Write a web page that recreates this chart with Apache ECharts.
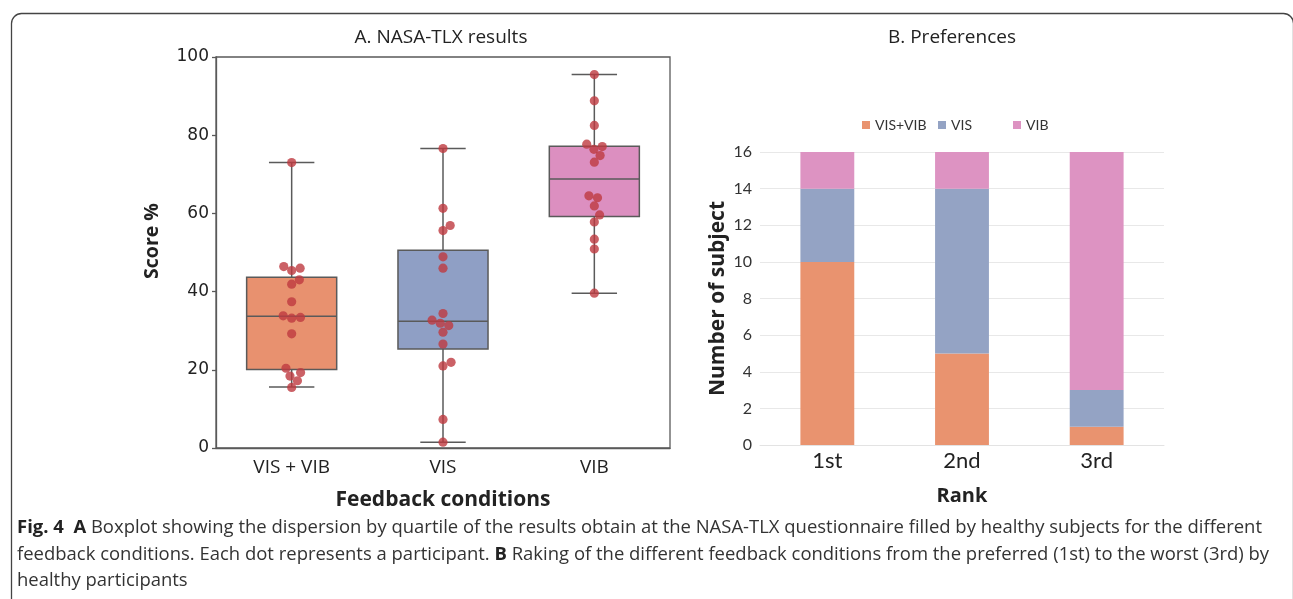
<!DOCTYPE html>
<html><head><meta charset="utf-8">
<script src="https://cdn.jsdelivr.net/npm/echarts@6/dist/echarts.min.js"></script>
<style>html,body{margin:0;padding:0;background:#fff}#c{width:1293px;height:599px}</style>
</head><body><div id="c"></div>
<script>
// ---------- data ----------
const conditions = ['VIS + VIB', 'VIS', 'VIB'];
// [lower whisker, q1, median, q3, upper whisker]
const boxVisVib = [15.6, 20.1, 33.7, 43.7, 73.0];
const boxVis    = [1.5, 25.3, 32.4, 50.6, 76.6];
const boxVib    = [39.6, 59.2, 68.8, 77.2, 95.5];
const scoresVisVib = [73.0, 46.0, 45.4, 46.4, 43.0, 41.9, 37.4, 33.4, 33.2, 33.8, 29.2, 20.4, 19.3, 18.4, 17.2, 15.5];
const scoresVis    = [76.6, 61.3, 56.9, 55.6, 48.9, 46.0, 34.4, 32.7, 31.9, 31.3, 29.6, 26.6, 21.9, 21.0, 7.3, 1.5];
const scoresVib    = [95.5, 88.8, 82.5, 77.7, 77.1, 76.4, 74.8, 73.1, 64.5, 64.0, 61.9, 59.6, 57.8, 53.4, 50.9, 39.6];
const scoreTicks = [0, 20, 40, 60, 80, 100];

const ranks = ['1st', '2nd', '3rd'];
const prefVisVib = [10, 5, 1];
const prefVis    = [4, 9, 2];
const prefVib    = [2, 2, 13];
const countTicks = [0, 2, 4, 6, 8, 10, 12, 14, 16];

const titleA = 'A. NASA-TLX results';
const titleB = 'B. Preferences';
const scoreName = 'Score %';
const captionLines = [
  [['Fig. 4', 'b'], ['  ', 'r'], ['A', 'b'], [' Boxplot showing the dispersion by quartile of the results obtain at the NASA-TLX questionnaire filled by healthy subjects for the different', 'r']],
  [['feedback conditions. Each dot represents a participant. ', 'r'], ['B', 'b'], [' Raking of the different feedback conditions from the preferred (1st) to the worst (3rd) by', 'r']],
  [['healthy participants', 'r']]
];

// ---------- styles ----------
const boxColors = ['#e8916f', '#8f9fc5', '#dc8fc0'];
const barColors = ['#e9936f', '#94a3c4', '#dd93c2'];
const edge = '#5a5a5a';

const boxStats = [boxVisVib, boxVis, boxVib];
const scoreGroups = [scoresVisVib, scoresVis, scoresVib];
const dotData = [];
scoreGroups.forEach((arr, g) => arr.forEach(v => dotData.push([g, v])));

// beeswarm layout in pixel space (computed through the axis scale)
let swarmCache = null;
function computeSwarm(api) {
  const diam = 8.8;
  const flat = [];
  scoreGroups.forEach((vals, g) => {
    const ys = vals.map(v => api.coord([g, v])[1]);
    const order = ys.map((y, i) => i).sort((a, b) => ys[b] - ys[a]);
    const placed = [];
    const offs = new Array(vals.length).fill(0);
    order.forEach(i => {
      const y = ys[i];
      const near = placed.filter(p => Math.abs(p.y - y) < diam);
      const cands = [0];
      near.forEach(p => { const d = Math.sqrt(diam * diam - (p.y - y) ** 2); cands.push(p.x - d, p.x + d); });
      const ok = cands.filter(c => near.every(p => Math.hypot(p.x - c, p.y - y) >= diam - 1e-6));
      ok.sort((a, b) => (Math.abs(a) - Math.abs(b)) || (b - a));
      const x = ok.length ? ok[0] : 0;
      offs[i] = x; placed.push({ x, y });
    });
    offs.forEach(o => flat.push(o));
  });
  return flat;
}

// caption scaling (condensed look)
const capFont = '"Open Sans", sans-serif';
const capSize = 18.5;
const mctx = document.createElement('canvas').getContext('2d');
function segWidth(t, kind) {
  mctx.font = (kind === 'b' ? 'bold ' : '') + capSize + 'px ' + capFont;
  return mctx.measureText(t).width;
}
const line1W = captionLines[0].reduce((s, p) => s + segWidth(p[0], p[1]), 0);
const capScale = 1245 / line1W;

const captionGraphics = captionLines.map((segs, k) => ({
  type: 'text', x: 17, y: 528 + k * 26.5, scaleX: capScale, scaleY: 1,
  style: {
    text: segs.map(p => '{' + p[1] + '|' + p[0] + '}').join(''),
    fontFamily: capFont, fontSize: capSize, fill: '#333',
    rich: {
      b: { fontFamily: capFont, fontSize: capSize, fontWeight: 'bold', fill: '#222', color: '#222' },
      r: { fontFamily: capFont, fontSize: capSize, fill: '#333', color: '#333' }
    },
    verticalAlign: 'middle', textVerticalAlign: 'middle'
  }
}));

const legendText = { fontSize: 14, color: '#333', fontFamily: 'Lato' };

const chart = echarts.init(document.getElementById('c'), null, { renderer: 'canvas' });
chart.setOption({
  animation: false,
  backgroundColor: '#fff',
  grid: [
    { left: 216, top: 57, width: 454, height: 391, show: true, borderColor: edge, borderWidth: 1.3, backgroundColor: 'transparent' },
    { left: 760, top: 152, width: 404, height: 293 }
  ],
  legend: [
    { data: ['VIS+VIB'], left: 857, top: 113, icon: 'rect', itemWidth: 8, itemHeight: 8, textStyle: legendText, selectedMode: false },
    { data: ['VIS'], left: 933, top: 113, icon: 'rect', itemWidth: 8, itemHeight: 8, textStyle: legendText, selectedMode: false },
    { data: ['VIB'], left: 1008, top: 113, icon: 'rect', itemWidth: 8, itemHeight: 8, textStyle: legendText, selectedMode: false }
  ],
  xAxis: [
    {
      gridIndex: 0, type: 'category', data: conditions, boundaryGap: true,
      axisLine: { lineStyle: { color: edge, width: 1.3 } },
      axisTick: { alignWithLabel: true, length: 5, lineStyle: { color: edge, width: 1.3 } },
      axisLabel: { fontSize: 19, color: '#222', margin: 10, fontFamily: '"Open Sans"' },
      name: 'Feedback conditions', nameLocation: 'middle', nameGap: 42,
      nameTextStyle: { fontSize: 21, fontWeight: 'bold', color: '#222', fontFamily: '"Open Sans"' }
    },
    {
      gridIndex: 1, type: 'category', data: ranks, boundaryGap: true,
      axisLine: { lineStyle: { color: '#e3e3e3', width: 1 } },
      axisTick: { show: false },
      axisLabel: { fontSize: 22, color: '#222', margin: 5, fontFamily: 'Lato' },
      name: 'Rank', nameLocation: 'middle', nameGap: 41,
      nameTextStyle: { fontSize: 20, fontWeight: 'bold', color: '#222', fontFamily: '"Open Sans"' }
    }
  ],
  yAxis: [
    {
      gridIndex: 0, type: 'value', min: scoreTicks[0], max: scoreTicks[scoreTicks.length - 1], interval: scoreTicks[1] - scoreTicks[0],
      axisLine: { show: true, lineStyle: { color: edge, width: 1.3 } },
      axisTick: { show: true, length: 4, lineStyle: { color: edge, width: 1.3 } },
      splitLine: { show: false },
      axisLabel: { fontSize: 17, color: '#222', margin: 7, fontFamily: '"DejaVu Sans"' }
    },
    {
      gridIndex: 1, type: 'value', min: countTicks[0], max: countTicks[countTicks.length - 1], interval: countTicks[1] - countTicks[0],
      axisLine: { show: false }, axisTick: { show: false },
      splitLine: { lineStyle: { color: '#e8e8e8', width: 1 } },
      axisLabel: { fontSize: 16, color: '#333', margin: 8, fontFamily: 'Lato' },
      name: 'Number of subject', nameLocation: 'middle', nameGap: 31, nameRotate: 90,
      nameTextStyle: { fontSize: 21, fontWeight: 'bold', color: '#222', fontFamily: '"Open Sans"' }
    }
  ],
  series: [
    {
      type: 'custom', xAxisIndex: 0, yAxisIndex: 0, z: 2,
      data: boxStats.map((s, i) => [i].concat(s)),
      encode: { x: 0, y: [1, 2, 3, 4, 5] },
      renderItem: function (params, api) {
        const i = api.value(0);
        const band = api.size([1, 0])[0];
        const bw = band * 0.595, cw = band * 0.3;
        const lo = api.coord([i, api.value(1)]);
        const q1 = api.coord([i, api.value(2)]);
        const md = api.coord([i, api.value(3)]);
        const q3 = api.coord([i, api.value(4)]);
        const hi = api.coord([i, api.value(5)]);
        const x = md[0];
        const st = { stroke: edge, lineWidth: 1.5, fill: null };
        return {
          type: 'group', children: [
            { type: 'line', shape: { x1: x, y1: hi[1], x2: x, y2: q3[1] }, style: st },
            { type: 'line', shape: { x1: x, y1: q1[1], x2: x, y2: lo[1] }, style: st },
            { type: 'line', shape: { x1: x - cw / 2, y1: hi[1], x2: x + cw / 2, y2: hi[1] }, style: st },
            { type: 'line', shape: { x1: x - cw / 2, y1: lo[1], x2: x + cw / 2, y2: lo[1] }, style: st },
            { type: 'rect', shape: { x: x - bw / 2, y: q3[1], width: bw, height: q1[1] - q3[1] }, style: { fill: boxColors[i], stroke: edge, lineWidth: 1.5 } },
            { type: 'line', shape: { x1: x - bw / 2, y1: md[1], x2: x + bw / 2, y2: md[1] }, style: st }
          ]
        };
      }
    },
    {
      type: 'custom', xAxisIndex: 0, yAxisIndex: 0, z: 5,
      data: dotData, encode: { x: 0, y: 1 },
      renderItem: function (params, api) {
        if (!swarmCache) swarmCache = computeSwarm(api);
        const p = api.coord([api.value(0), api.value(1)]);
        const dx = swarmCache[params.dataIndex] || 0;
        return { type: 'circle', shape: { cx: p[0] + dx, cy: p[1], r: 4.6 }, style: { fill: 'rgba(190,58,64,0.8)' } };
      }
    },
    { name: 'VIS+VIB', type: 'bar', xAxisIndex: 1, yAxisIndex: 1, stack: 'pref', barWidth: '40%', data: prefVisVib, itemStyle: { color: barColors[0] } },
    { name: 'VIS', type: 'bar', xAxisIndex: 1, yAxisIndex: 1, stack: 'pref', barWidth: '40%', data: prefVis, itemStyle: { color: barColors[1] } },
    { name: 'VIB', type: 'bar', xAxisIndex: 1, yAxisIndex: 1, stack: 'pref', barWidth: '40%', data: prefVib, itemStyle: { color: barColors[2] } }
  ],
  graphic: [
    { type: 'rect', shape: { x: 11.5, y: 13.5, width: 1282, height: 640, r: 10 }, style: { fill: null, stroke: '#444', lineWidth: 1.3 }, silent: true },
    { type: 'text', x: 441, y: 38, style: { text: titleA, align: 'center', verticalAlign: 'middle', textAlign: 'center', textVerticalAlign: 'middle', fontFamily: '"Open Sans"', fontSize: 19, fill: '#222' } },
    { type: 'text', x: 952, y: 38, style: { text: titleB, align: 'center', verticalAlign: 'middle', textAlign: 'center', textVerticalAlign: 'middle', fontFamily: '"Open Sans"', fontSize: 19, fill: '#222' } },
    { type: 'text', x: 152, y: 241, rotation: Math.PI / 2, style: { text: scoreName, align: 'center', verticalAlign: 'middle', textAlign: 'center', textVerticalAlign: 'middle', fontFamily: '"Open Sans"', fontSize: 19.5, fontWeight: 'bold', fill: '#222' } }
  ].concat(captionGraphics)
});
</script></body></html>
